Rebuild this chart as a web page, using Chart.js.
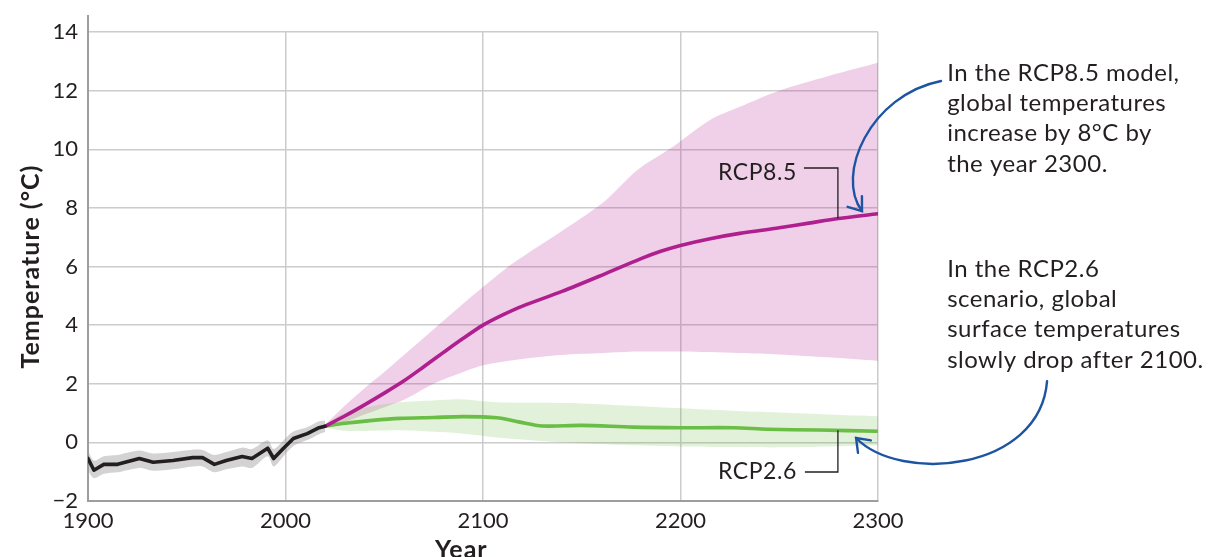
<!DOCTYPE html>
<html>
<head>
<meta charset="utf-8">
<script src="https://cdn.jsdelivr.net/npm/chart.js@4"></script>
<style>
  html, body { margin: 0; padding: 0; background: #fff; }
  #wrap { width: 1210px; height: 557px; }
</style>
</head>
<body>
<div id="wrap"><canvas id="chart"></canvas></div>
<script>
// observed record, 1900-2020
const histYears = [1900, 1903, 1908, 1915, 1926, 1933, 1943, 1953, 1958, 1964, 1970, 1978, 1983, 1991, 1994, 1999, 2004, 2011, 2017, 2020];
const histTemp  = [-0.55, -0.95, -0.75, -0.75, -0.55, -0.68, -0.62, -0.52, -0.52, -0.75, -0.62, -0.48, -0.55, -0.2, -0.55, -0.2, 0.13, 0.3, 0.5, 0.55];
const histHigh  = [-0.28, -0.62, -0.47, -0.43, -0.28, -0.38, -0.33, -0.25, -0.26, -0.43, -0.33, -0.18, -0.23, 0.07, -0.23, 0.07, 0.37, 0.52, 0.72, 0.75];
const histLow   = [-0.98, -1.22, -1.07, -1.02, -0.87, -0.97, -0.92, -0.82, -0.82, -1.02, -0.92, -0.82, -0.87, -0.47, -0.82, -0.47, -0.12, 0.08, 0.28, 0.35];

// RCP8.5 mean projection
const rcp85Years = [2020, 2030, 2040, 2050, 2060, 2070, 2080, 2090, 2100, 2110, 2120, 2140, 2160, 2180, 2190, 2200, 2215, 2230, 2250, 2265, 2280, 2300];
const rcp85Temp  = [0.55, 0.9, 1.28, 1.68, 2.1, 2.58, 3.07, 3.55, 4.0, 4.35, 4.65, 5.15, 5.7, 6.27, 6.52, 6.72, 6.95, 7.13, 7.32, 7.48, 7.64, 7.8];
// RCP8.5 model spread
const rcp85BandYears = [2020, 2030, 2040, 2050, 2060, 2075, 2092, 2100, 2115, 2139, 2161, 2178, 2195, 2215, 2230, 2250, 2275, 2300];
const rcp85High = [0.6, 1.25, 1.85, 2.4, 2.98, 3.86, 4.85, 5.3, 6.1, 7.17, 8.19, 9.28, 10.03, 11.0, 11.45, 12.0, 12.5, 12.95];
const rcp85Low  = [0.5, 0.7, 0.95, 1.2, 1.45, 2.0, 2.45, 2.63, 2.8, 2.98, 3.05, 3.1, 3.1, 3.08, 3.05, 3.0, 2.9, 2.78];

// RCP2.6 mean projection
const rcp26Years = [2020, 2030, 2044, 2058, 2075, 2090, 2107, 2118, 2130, 2150, 2176, 2200, 2227, 2244, 2270, 2300];
const rcp26Temp  = [0.55, 0.65, 0.75, 0.82, 0.85, 0.88, 0.84, 0.7, 0.56, 0.58, 0.52, 0.5, 0.5, 0.45, 0.42, 0.38];
// RCP2.6 model spread
const rcp26BandYears = [2020, 2030, 2045, 2058, 2075, 2088, 2107, 2130, 2150, 2175, 2200, 2225, 2250, 2275, 2300];
const rcp26High = [0.6, 1.0, 1.25, 1.37, 1.43, 1.47, 1.37, 1.35, 1.33, 1.25, 1.16, 1.08, 1.02, 0.95, 0.89];
const rcp26Low  = [0.5, 0.4, 0.4, 0.41, 0.36, 0.31, 0.17, 0.05, -0.03, -0.1, -0.14, -0.16, -0.17, -0.14, -0.1];

const xTicks = [1900, 2000, 2100, 2200, 2300];
const yTicks = [-2, 0, 2, 4, 6, 8, 10, 12, 14];

// callouts, placed in chart units (year, °C)
const notes = [
  { x: 2335, y: 12.6, lines: ["In the RCP8.5 model,", "global temperatures", "increase by 8°C by", "the year 2300."] },
  { x: 2335, y: 5.91, lines: ["In the RCP2.6", "scenario, global", "surface temperatures", "slowly drop after 2100."] }
];
const seriesLabels = [
  { text: "RCP8.5", x: 2259, y: 9.22, leader: [[2262.5, 9.36], [2279.7, 9.36], [2279.7, 7.64]] },
  { text: "RCP2.6", x: 2259, y: -1.01, leader: [[2263, -1.01], [2279.7, -1.01], [2279.7, 0.41]] }
];
const arrows = [
  [[2331.9, 12.33], [2295.95, 11.85], [2278.2, 9.12], [2291.9, 7.89]],
  [[2385.6, 2.09], [2382.0, -1.0], [2311.1, -1.4], [2288.9, 0.15]]
];

const FONT = "Lato, 'Noto Sans', sans-serif";
const INK = "#231f20";
const BLUE = "#1d54a2";

const pts = (xs, ys) => xs.map((x, i) => ({ x: x, y: ys[i] }));

function line(data, color, width, tension) {
  return { data: data, borderColor: color, borderWidth: width, pointRadius: 0, tension: tension, fill: false, borderCapStyle: "round", borderJoinStyle: "round" };
}
function edge(data, fill, bg) {
  return { data: data, borderWidth: 0, borderColor: "transparent", pointRadius: 0, tension: 0.3, fill: fill, backgroundColor: bg };
}

const annotations = {
  id: "annotations",
  afterDraw(chart) {
    const { ctx, chartArea } = chart;
    const xs = chart.scales.x, ys = chart.scales.y;
    const px = v => xs.getPixelForValue(v);
    const py = v => ys.getPixelForValue(v);
    ctx.save();

    // y axis line runs a little past the top gridline
    ctx.strokeStyle = "#9d9d9d";
    ctx.lineWidth = 2;
    ctx.beginPath();
    ctx.moveTo(chartArea.left, chartArea.top - 17);
    ctx.lineTo(chartArea.left, chartArea.top);
    ctx.stroke();

    // axis titles
    ctx.fillStyle = INK;
    ctx.font = "bold 25px " + FONT;
    ctx.letterSpacing = "1px";
    ctx.textAlign = "center";
    ctx.textBaseline = "top";
    ctx.fillText("Year", px(2089), chartArea.bottom + 36);
    ctx.save();
    ctx.translate(chartArea.left - 57, py(6));
    ctx.rotate(-Math.PI / 2);
    ctx.textBaseline = "middle";
    ctx.fillText("Temperature (°C)", 0, 0);
    ctx.restore();

    // series labels with leader lines
    ctx.font = "23px " + FONT;
    ctx.letterSpacing = "0.6px";
    ctx.textAlign = "right";
    ctx.textBaseline = "middle";
    ctx.strokeStyle = INK;
    ctx.lineWidth = 1.3;
    seriesLabels.forEach(l => {
      ctx.fillText(l.text, px(l.x), py(l.y));
      ctx.beginPath();
      l.leader.forEach((p, i) => i ? ctx.lineTo(px(p[0]), py(p[1])) : ctx.moveTo(px(p[0]), py(p[1])));
      ctx.stroke();
    });

    // callout text
    ctx.font = "24px " + FONT;
    ctx.letterSpacing = "0.5px";
    ctx.textAlign = "left";
    notes.forEach(n => {
      n.lines.forEach((t, i) => ctx.fillText(t, px(n.x), py(n.y) + i * 30.3));
    });
    ctx.letterSpacing = "0px";

    // curved arrows
    ctx.strokeStyle = BLUE;
    ctx.lineWidth = 2.4;
    ctx.lineCap = "round";
    arrows.forEach(a => {
      const p = a.map(q => [px(q[0]), py(q[1])]);
      ctx.beginPath();
      ctx.moveTo(p[0][0], p[0][1]);
      ctx.bezierCurveTo(p[1][0], p[1][1], p[2][0], p[2][1], p[3][0], p[3][1]);
      ctx.stroke();
      const ang = Math.atan2(p[3][1] - p[2][1], p[3][0] - p[2][0]) + Math.PI;
      const len = 15, spread = 0.64;
      ctx.beginPath();
      ctx.moveTo(p[3][0] + len * Math.cos(ang - spread), p[3][1] + len * Math.sin(ang - spread));
      ctx.lineTo(p[3][0], p[3][1]);
      ctx.lineTo(p[3][0] + len * Math.cos(ang + spread), p[3][1] + len * Math.sin(ang + spread));
      ctx.stroke();
    });
    ctx.restore();
  }
};

new Chart(document.getElementById("chart"), {
  type: "line",
  data: {
    datasets: [
      line(pts(histYears, histTemp), INK, 3.6, 0),
      line(pts(rcp85Years, rcp85Temp), "#b01f8e", 3.6, 0.3),
      line(pts(rcp26Years, rcp26Temp), "#6abd45", 3.6, 0.3),
      edge(pts(rcp26BandYears, rcp26High), "+1", "rgba(100,180,60,0.19)"),
      edge(pts(rcp26BandYears, rcp26Low), false, "transparent"),
      edge(pts(rcp85BandYears, rcp85High), "+1", "rgba(180,40,150,0.22)"),
      edge(pts(rcp85BandYears, rcp85Low), false, "transparent"),
      edge(pts(histYears, histHigh), "+1", "rgba(150,150,150,0.42)"),
      edge(pts(histYears, histLow), false, "transparent")
    ]
  },
  options: {
    responsive: true,
    maintainAspectRatio: false,
    animation: false,
    layout: { padding: { top: 32, right: 332, left: 0, bottom: 0 } },
    plugins: { legend: { display: false }, tooltip: { enabled: false } },
    scales: {
      x: {
        type: "linear",
        min: 1900,
        max: 2300,
        afterBuildTicks: s => { s.ticks = xTicks.map(v => ({ value: v })); },
        afterFit: s => { s.height = 56; },
        grid: { color: "#cccccc", lineWidth: 1.5, drawTicks: false },
        border: { color: "#9d9d9d", width: 2 },
        ticks: { padding: 7, color: INK, font: { family: FONT, size: 22 }, callback: v => String(v) }
      },
      y: {
        min: -2,
        max: 14,
        afterBuildTicks: s => { s.ticks = yTicks.map(v => ({ value: v })); },
        afterFit: s => { s.width = 88; },
        grid: { color: "#cccccc", lineWidth: 1.5, drawTicks: false },
        border: { color: "#9d9d9d", width: 2 },
        ticks: {
          padding: 10,
          color: INK,
          font: { family: FONT, size: 22 },
          callback: v => String(v).replace("-", "\u2212")
        }
      }
    }
  },
  plugins: [annotations]
});
</script>
</body>
</html>
